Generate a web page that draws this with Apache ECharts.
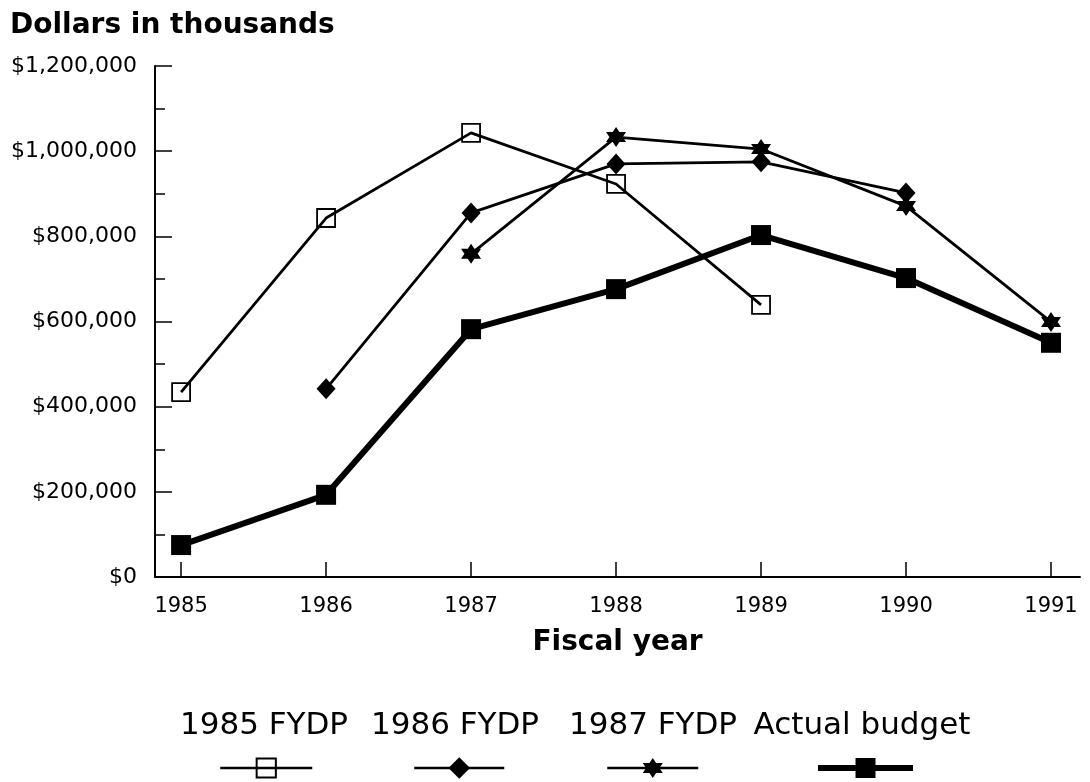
<!DOCTYPE html>
<html>
<head>
<meta charset="utf-8">
<script src="https://cdn.jsdelivr.net/npm/echarts@6/dist/echarts.min.js"></script>
<style>
html,body{margin:0;padding:0;background:#fff;}
#chart{width:1090px;height:782px;}
</style>
</head>
<body>
<div id="chart"></div>
<script>
// ---- data ----
var years = [1985, 1986, 1987, 1988, 1989, 1990, 1991];
var fydp1985 = [434000, 843000, 1043000, 923000, 639000, null, null];
var fydp1986 = [null, 442000, 855000, 970000, 975000, 902000, null];
var fydp1987 = [null, null, 759000, 1033000, 1005000, 871000, 599000];
var actualBudget = [75000, 193000, 582000, 676000, 803000, 702000, 550000];
var seriesNames = ['1985 FYDP', '1986 FYDP', '1987 FYDP', 'Actual budget'];

function pairs(vals) {
  var out = [];
  for (var i = 0; i < years.length; i++) {
    if (vals[i] !== null) out.push([years[i], vals[i]]);
  }
  return out;
}

var FONT = '"DejaVu Sans", sans-serif';
var hexagram = 'path://M0,-10L8.66,5L-8.66,5Z M0,10L-8.66,-5L8.66,-5Z';

var chart = echarts.init(document.getElementById('chart'), null, {renderer: 'canvas'});

function legendFor(name, left, width, h, lw) {
  return {
    data: [name],
    left: left,
    top: 768 - h / 2,
    padding: 0,
    itemGap: 0,
    itemWidth: width,
    itemHeight: h,
    selectedMode: false,
    lineStyle: {width: lw, color: '#000'},
    formatter: function () { return ''; },
    textStyle: {fontSize: 1}
  };
}

var option = {
  backgroundColor: '#fff',
  animation: false,
  title: {
    text: 'Dollars in thousands',
    left: 5,
    top: 7,
    textStyle: {fontFamily: FONT, fontSize: 28, fontWeight: 'bold', color: '#000'}
  },
  grid: {left: 155, right: 10, top: 66, bottom: 205, containLabel: false},
  xAxis: {
    type: 'value',
    min: 1984.82,
    max: 1991.2,
    name: 'Fiscal year',
    nameLocation: 'middle',
    nameGap: 52,
    nameTextStyle: {fontFamily: FONT, fontSize: 28, fontWeight: 'bold', color: '#000'},
    axisLine: {show: true, lineStyle: {color: '#000', width: 2}},
    axisTick: {show: true, inside: true, length: 15, customValues: years, lineStyle: {color: '#000', width: 1.5}},
    axisLabel: {
      show: true, customValues: years, margin: 19,
      fontFamily: FONT, fontSize: 21, color: '#000',
      formatter: function (v) { return String(Math.round(v)); }
    },
    splitLine: {show: false}
  },
  yAxis: {
    type: 'value',
    min: 0,
    max: 1200000,
    interval: 200000,
    axisLine: {show: true, lineStyle: {color: '#000', width: 2}},
    axisTick: {show: true, inside: true, length: 17, lineStyle: {color: '#000', width: 1.5}},
    minorTick: {show: true, splitNumber: 2, length: 10, lineStyle: {color: '#000', width: 1.5}},
    axisLabel: {
      margin: 18, fontFamily: FONT, fontSize: 22, color: '#000',
      padding: [6, 0, 0, 0],
      formatter: function (v) { return '$' + v.toLocaleString('en-US'); }
    },
    splitLine: {show: false}
  },
  legend: [
    legendFor(seriesNames[0], 219, 92, 24, 2.5),
    legendFor(seriesNames[1], 413, 90, 27, 2.5),
    legendFor(seriesNames[2], 606, 91, 25, 2.5),
    legendFor(seriesNames[3], 815, 95, 25, 6)
  ],
  series: [
    {
      name: seriesNames[0], type: 'line', data: pairs(fydp1985),
      symbol: 'rect', symbolSize: 18,
      lineStyle: {color: '#000', width: 2.8},
      itemStyle: {color: 'rgba(0,0,0,0)', borderColor: '#000', borderWidth: 1.8},
      z: 3
    },
    {
      name: seriesNames[1], type: 'line', data: pairs(fydp1986),
      symbol: 'diamond', symbolSize: [19, 21],
      lineStyle: {color: '#000', width: 2.8},
      itemStyle: {color: '#000'},
      z: 4
    },
    {
      name: seriesNames[2], type: 'line', data: pairs(fydp1987),
      symbol: hexagram, symbolSize: 20,
      lineStyle: {color: '#000', width: 2.8},
      itemStyle: {color: '#000'},
      z: 5
    },
    {
      name: seriesNames[3], type: 'line', data: pairs(actualBudget),
      symbol: 'rect', symbolSize: 20,
      lineStyle: {color: '#000', width: 6},
      itemStyle: {color: '#000'},
      z: 6
    }
  ]
};

// legend labels placed above each legend icon
var labelCenters = [264, 455, 653, 862];
option.graphic = seriesNames.map(function (n, i) {
  return {
    type: 'text',
    x: labelCenters[i],
    y: 726,
    style: {
      text: n, fill: '#000',
      font: '31px ' + FONT,
      textAlign: 'center', textVerticalAlign: 'middle'
    }
  };
});

chart.setOption(option);
</script>
</body>
</html>
